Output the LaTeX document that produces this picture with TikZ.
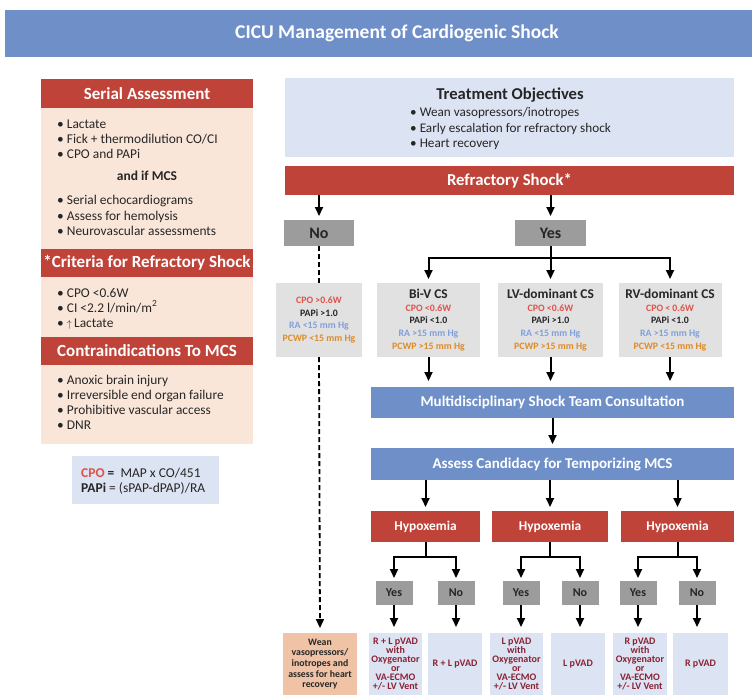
\documentclass[tikz,border=0pt]{standalone}
\usepackage{fontspec}
\setmainfont{Carlito}
\usetikzlibrary{arrows.meta}
\definecolor{hdrblue}{HTML}{6F8FC9}
\definecolor{shockred}{HTML}{BF4338}
\definecolor{peach}{HTML}{FAE6D9}
\definecolor{paleblue}{HTML}{DCE3F2}
\definecolor{palegray}{HTML}{E1E1E1}
\definecolor{midgray}{HTML}{9C9C9C}
\definecolor{weanorange}{HTML}{F0C3A6}
\definecolor{maroon}{HTML}{8A2233}
\definecolor{cpored}{HTML}{E0524A}
\definecolor{rablue}{HTML}{80A0DA}
\definecolor{pcwporange}{HTML}{E08B26}
\definecolor{inkdark}{HTML}{262626}
\newcommand{\fs}[2]{\fontsize{#1}{#2}\selectfont}
\begin{document}
\begin{tikzpicture}[x=1pt,y=-1pt,
  rect/.style={inner sep=0pt, outer sep=0pt, draw=none},
  bluebar/.style={rect, fill=hdrblue, text=white, font=\fs{15}{17}\bfseries},
  redbar/.style={rect, fill=shockred, text=white, font=\fs{17}{19}\bfseries},
  graybox/.style={rect, fill=palegray, text=inkdark, align=center, font=\fs{9.8}{12.6}\bfseries},
  yn/.style={rect, fill=midgray, text=inkdark, font=\fs{12}{14}\bfseries, minimum width=37pt, minimum height=24pt},
  outbox/.style={rect, fill=paleblue, text=maroon, align=center, font=\fs{10}{8.9}\bfseries, minimum height=62pt},
  bul/.style={inner sep=0pt, anchor=base west, text=inkdark, font=\fs{13.4}{15}, text height=9.5pt, text depth=3pt},
  tbul/.style={inner sep=0pt, anchor=base west, text=inkdark, font=\fs{13.2}{14}, text height=9.5pt, text depth=3pt},
  conn/.style={line width=2pt, draw=black},
  arr/.style={conn, -{Triangle[length=9pt,width=8pt]}, shorten >=4pt},
  dashline/.style={line width=1.8pt, dash pattern=on 5pt off 3pt},
]
\useasboundingbox (0,0) rectangle (754,697);
\fill[white] (0,0) rectangle (754,697);

% title
\node[rect, fill=hdrblue, minimum width=747pt, minimum height=47pt] (titlebar) at (378.5,33.5) {};
\node[inner sep=0pt, text=white, font=\fs{19.5}{22}\bfseries] (titletext) at (397,33.5) {CICU Management of Cardiogenic Shock};

% left column
\node[rect, fill=peach, minimum width=212pt, minimum height=365pt] (peachbox) at (147,261.5) {};
\node[redbar, minimum width=212pt, minimum height=29pt] (saHdr) at (147,93.5) {Serial Assessment};
\node[bul] (sa1) at (57,128) {\textbullet\ Lactate};
\node[bul] (sa2) at (57,143) {\textbullet\ Fick + thermodilution CO/CI};
\node[bul] (sa3) at (57,158) {\textbullet\ CPO and PAPi};
\node[bul, anchor=base, font=\fs{13.5}{15}\bfseries] (saand) at (147,180) {and if MCS};
\node[bul] (sa4) at (57,204) {\textbullet\ Serial echocardiograms};
\node[bul] (sa5) at (57,220) {\textbullet\ Assess for hemolysis};
\node[bul] (sa6) at (57,235) {\textbullet\ Neurovascular assessments};

\node[redbar, minimum width=212pt, minimum height=28pt] (critHdr) at (147,263) {*Criteria for Refractory Shock};
\node[bul] (cr1) at (57,297) {\textbullet\ CPO <0.6W};
\node[bul] (cr2) at (57,312) {\textbullet\ CI <2.2 l/min/m\textsuperscript{2}};
\node[bul] (cr3) at (57,327.5) {\textbullet\ {\fs{10}{10}$\uparrow$}\,Lactate};

\node[redbar, minimum width=212pt, minimum height=28pt] (contraHdr) at (147,351) {Contraindications To MCS};
\node[bul] (co1) at (57,384) {\textbullet\ Anoxic brain injury};
\node[bul] (co2) at (57,399) {\textbullet\ Irreversible end organ failure};
\node[bul] (co3) at (57,414) {\textbullet\ Prohibitive vascular access};
\node[bul] (co4) at (57,429) {\textbullet\ DNR};

\node[rect, fill=paleblue, minimum width=147pt, minimum height=48pt] (formula) at (145.5,480) {};
\node[bul, font=\fs{13.5}{15}] (fo1) at (81,477) {\textbf{\textcolor{cpored}{CPO}} \textbf{=}\ \ MAP x CO/451};
\node[bul, font=\fs{13.5}{15}] (fo2) at (81,492) {\textbf{PAPi} = (sPAP-dPAP)/RA};

% treatment objectives
\node[rect, fill=paleblue, minimum width=449pt, minimum height=79pt] (objectives) at (509.5,117.5) {};
\node[inner sep=0pt, anchor=base, text=inkdark, font=\fs{16.6}{18}\bfseries] (objtitle) at (510,99) {Treatment Objectives};
\node[tbul] (ob1) at (410,116.5) {\textbullet\ Wean vasopressors/inotropes};
\node[tbul] (ob2) at (410,132) {\textbullet\ Early escalation for refractory shock};
\node[tbul] (ob3) at (410,147.5) {\textbullet\ Heart recovery};

\node[redbar, font=\fs{16.7}{18}\bfseries, minimum width=449pt, minimum height=29pt] (refractory) at (509.5,180.5) {Refractory Shock*};

% No / Yes
\node[rect, fill=midgray, text=inkdark, font=\fs{16}{18}\bfseries, minimum width=70pt, minimum height=26pt] (no) at (319,233) {No};
\node[rect, fill=midgray, text=inkdark, font=\fs{16}{18}\bfseries, minimum width=71pt, minimum height=26pt] (yes) at (550.5,233) {Yes};

% CS boxes
\node[graybox, minimum width=86pt, minimum height=74pt] (cs0) at (319,320) {\textcolor{cpored}{CPO >0.6W}\\PAPi >1.0\\\textcolor{rablue}{RA <15 mm Hg}\\\textcolor{pcwporange}{PCWP <15 mm Hg}};
\node[graybox, minimum width=103pt, minimum height=74pt] (bivcs) at (428.5,320) {{\fs{13.4}{13}Bi-V CS}\\\textcolor{cpored}{CPO <0.6W}\\PAPi <1.0\\\textcolor{rablue}{RA >15 mm Hg}\\\textcolor{pcwporange}{PCWP >15 mm Hg}};
\node[graybox, minimum width=105pt, minimum height=74pt] (lvcs) at (550.5,320) {{\fs{13.4}{13}LV-dominant CS}\\\textcolor{cpored}{CPO <0.6W}\\PAPi >1.0\\\textcolor{rablue}{RA <15 mm Hg}\\\textcolor{pcwporange}{PCWP >15 mm Hg}};
\node[graybox, minimum width=103pt, minimum height=74pt] (rvcs) at (670,320) {{\fs{13.4}{13}RV-dominant CS}\\\textcolor{cpored}{CPO < 0.6W}\\PAPi <1.0\\\textcolor{rablue}{RA >15 mm Hg}\\\textcolor{pcwporange}{PCWP <15 mm Hg}};

% blue bars
\node[bluebar, minimum width=363pt, minimum height=31pt] (multi) at (552.5,402.5) {Multidisciplinary Shock Team Consultation};
\node[bluebar, minimum width=363pt, minimum height=32pt] (assess) at (552.5,464) {Assess Candidacy for Temporizing MCS};

% hypoxemia
\node[redbar, font=\fs{13.4}{15}\bfseries, minimum width=109pt, minimum height=31pt] (hyp1) at (425.5,526.5) {Hypoxemia};
\node[redbar, font=\fs{13.4}{15}\bfseries, minimum width=116pt, minimum height=31pt] (hyp2) at (550,526.5) {Hypoxemia};
\node[redbar, font=\fs{13.4}{15}\bfseries, minimum width=113pt, minimum height=31pt] (hyp3) at (677.5,526.5) {Hypoxemia};

% yes/no small
\node[yn] (y1) at (394,593) {Yes};
\node[yn] (n1) at (456,593) {No};
\node[yn] (y2) at (521,593) {Yes};
\node[yn] (n2) at (580,593) {No};
\node[yn] (y3) at (638,593) {Yes};
\node[yn] (n3) at (697,593) {No};

% outcome boxes
\node[outbox, fill=weanorange, text=inkdark, font=\fs{9.8}{10.7}\bfseries, minimum width=74pt] (wean) at (320,664) {Wean\\vasopressors/\\inotropes and\\assess for heart\\recovery};
\node[outbox, minimum width=53pt] (b1) at (395.5,664) {R + L pVAD\\with\\Oxygenator\\or\\VA-ECMO\\+/- LV Vent};
\node[outbox, minimum width=54pt] (b2) at (455,664) {R + L pVAD};
\node[outbox, minimum width=53pt] (b3) at (516.5,664) {L pVAD\\with\\Oxygenator\\or\\VA-ECMO\\+/- LV Vent};
\node[outbox, minimum width=54pt] (b4) at (578,664) {L pVAD};
\node[outbox, minimum width=54pt] (b5) at (640,664) {R pVAD\\with\\Oxygenator\\or\\VA-ECMO\\+/- LV Vent};
\node[outbox, minimum width=55pt] (b6) at (700.5,664) {R pVAD};

% junction coordinates
\coordinate (yj) at (550.5,258);
\coordinate (h1j) at (425.5,557);
\coordinate (h2j) at (550,557);
\coordinate (h3j) at (677.5,557);

% connectors
\draw[arr] (refractory.south -| no.north) -- (no.north);
\draw[arr] (refractory.south -| yes.north) -- (yes.north);
\draw[dashline] (no.south) -- (cs0.north);
\draw[dashline, -{Triangle[length=9pt,width=8pt]}, shorten >=5pt] (cs0.south) -- (wean.north);

\draw[arr] (yes.south) |- (yj -| bivcs.north) -- (bivcs.north);
\draw[arr] (yes.south) -- (lvcs.north);
\draw[arr] (yes.south) |- (yj -| rvcs.north) -- (rvcs.north);

\draw[arr, shorten >=6pt] (bivcs.south) -- (bivcs.south |- multi.north);
\draw[arr, shorten >=6pt] (lvcs.south) -- (lvcs.south |- multi.north);
\draw[arr, shorten >=6pt] (rvcs.south) -- (rvcs.south |- multi.north);
\draw[arr] (multi.south) -- (assess.north);
\draw[arr] (hyp1.north |- assess.south) -- (hyp1.north);
\draw[arr] (hyp2.north |- assess.south) -- (hyp2.north);
\draw[arr] (hyp3.north |- assess.south) -- (hyp3.north);

\draw[arr, shorten >=3pt] (hyp1.south) |- (h1j -| y1.north) -- (y1.north);
\draw[arr, shorten >=3pt] (hyp1.south) |- (h1j -| n1.north) -- (n1.north);
\draw[arr, shorten >=3pt] (hyp2.south) |- (h2j -| y2.north) -- (y2.north);
\draw[arr, shorten >=3pt] (hyp2.south) |- (h2j -| n2.north) -- (n2.north);
\draw[arr, shorten >=3pt] (hyp3.south) |- (h3j -| y3.north) -- (y3.north);
\draw[arr, shorten >=3pt] (hyp3.south) |- (h3j -| n3.north) -- (n3.north);

\draw[arr, shorten >=6pt] (y1.south) -- (y1.south |- b1.north);
\draw[arr, shorten >=6pt] (n1.south) -- (n1.south |- b2.north);
\draw[arr, shorten >=6pt] (y2.south) -- (y2.south |- b3.north);
\draw[arr, shorten >=6pt] (n2.south) -- (n2.south |- b4.north);
\draw[arr, shorten >=6pt] (y3.south) -- (y3.south |- b5.north);
\draw[arr, shorten >=6pt] (n3.south) -- (n3.south |- b6.north);
\end{tikzpicture}
\end{document}
